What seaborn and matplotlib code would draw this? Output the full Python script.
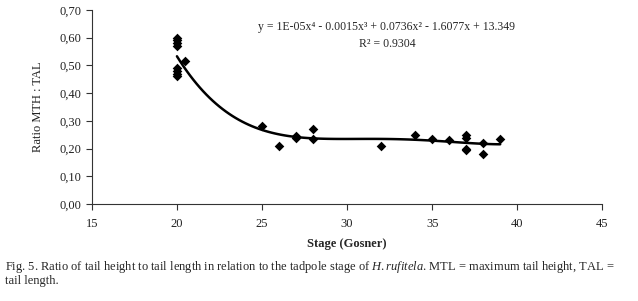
import matplotlib
matplotlib.use("Agg")
import matplotlib.pyplot as plt
import seaborn as sns
import numpy as np
import pandas as pd
from matplotlib.ticker import FuncFormatter

# data
stage = [20, 20, 20, 20, 20, 20, 20, 20, 20.5, 25, 26, 27, 27, 28, 28,
         32, 34, 35, 36, 37, 37, 37, 37, 38, 38, 39]
ratio = [0.60, 0.59, 0.58, 0.57, 0.49, 0.48, 0.47, 0.46, 0.515, 0.28, 0.21, 0.245, 0.24, 0.27, 0.235,
         0.21, 0.25, 0.235, 0.23, 0.25, 0.24, 0.20, 0.195, 0.22, 0.18, 0.235]
x_ticks = [15, 20, 25, 30, 35, 40, 45]
y_ticks = [0.0, 0.1, 0.2, 0.3, 0.4, 0.5, 0.6, 0.7]

df = pd.DataFrame({"Stage": stage, "Ratio": ratio})

sns.set_style("ticks")
plt.rcParams["font.family"] = ["Liberation Serif", "DejaVu Serif"]
plt.rcParams["mathtext.fontset"] = "custom"
plt.rcParams["mathtext.rm"] = "Liberation Serif"
plt.rcParams["mathtext.it"] = "Liberation Serif:italic"

fig = plt.figure(figsize=(6.38, 3.01), dpi=100)
ax = fig.add_axes([0.144, 0.322, 0.8, 0.645])

sns.regplot(data=df, x="Stage", y="Ratio", order=4, ci=None, ax=ax, marker="D",
            scatter_kws=dict(s=24, color="black", alpha=1, linewidths=0),
            line_kws=dict(color="black", lw=1.8))

ax.set_xlim(15, 45)
ax.set_ylim(0, 0.7)
ax.set_xticks(x_ticks)
ax.set_yticks(y_ticks)
ax.yaxis.set_major_formatter(FuncFormatter(lambda v, p: f"{v:.2f}".replace(".", ",")))
ax.tick_params(labelsize=9, length=4, width=0.8, color="#333333", labelcolor="#222222")
ax.tick_params(axis="x", pad=6)
sns.despine(ax=ax)
for s in ["left", "bottom"]:
    ax.spines[s].set_linewidth(0.8)
    ax.spines[s].set_color("#333333")

ax.set_xlabel("Stage (Gosner)", fontsize=9, fontweight="bold", labelpad=6)
ax.set_ylabel("Ratio MTH : TAL", fontsize=9, labelpad=11, color="#222222")

ax.text(0.578, 0.912, "y = 1E-05x\u2074 - 0.0015x\u00b3 + 0.0736x\u00b2 - 1.6077x + 13.349",
        transform=ax.transAxes, ha="center", va="center", fontsize=8.5)
ax.text(0.578, 0.825, "R\u00b2 = 0.9304", transform=ax.transAxes, ha="center", va="center", fontsize=8.5)

fig.text(5 / 638, 1 - 270 / 301,
         "Fig. 5. Ratio of tail height to tail length in relation to the tadpole stage of "
         r"$\mathit{H.rufitela}$. MTL = maximum tail height, TAL =",
         fontsize=9, va="baseline")
fig.text(5 / 638, 1 - 284 / 301, "tail length.", fontsize=9, va="baseline")

fig.savefig("out.png", dpi=100)
